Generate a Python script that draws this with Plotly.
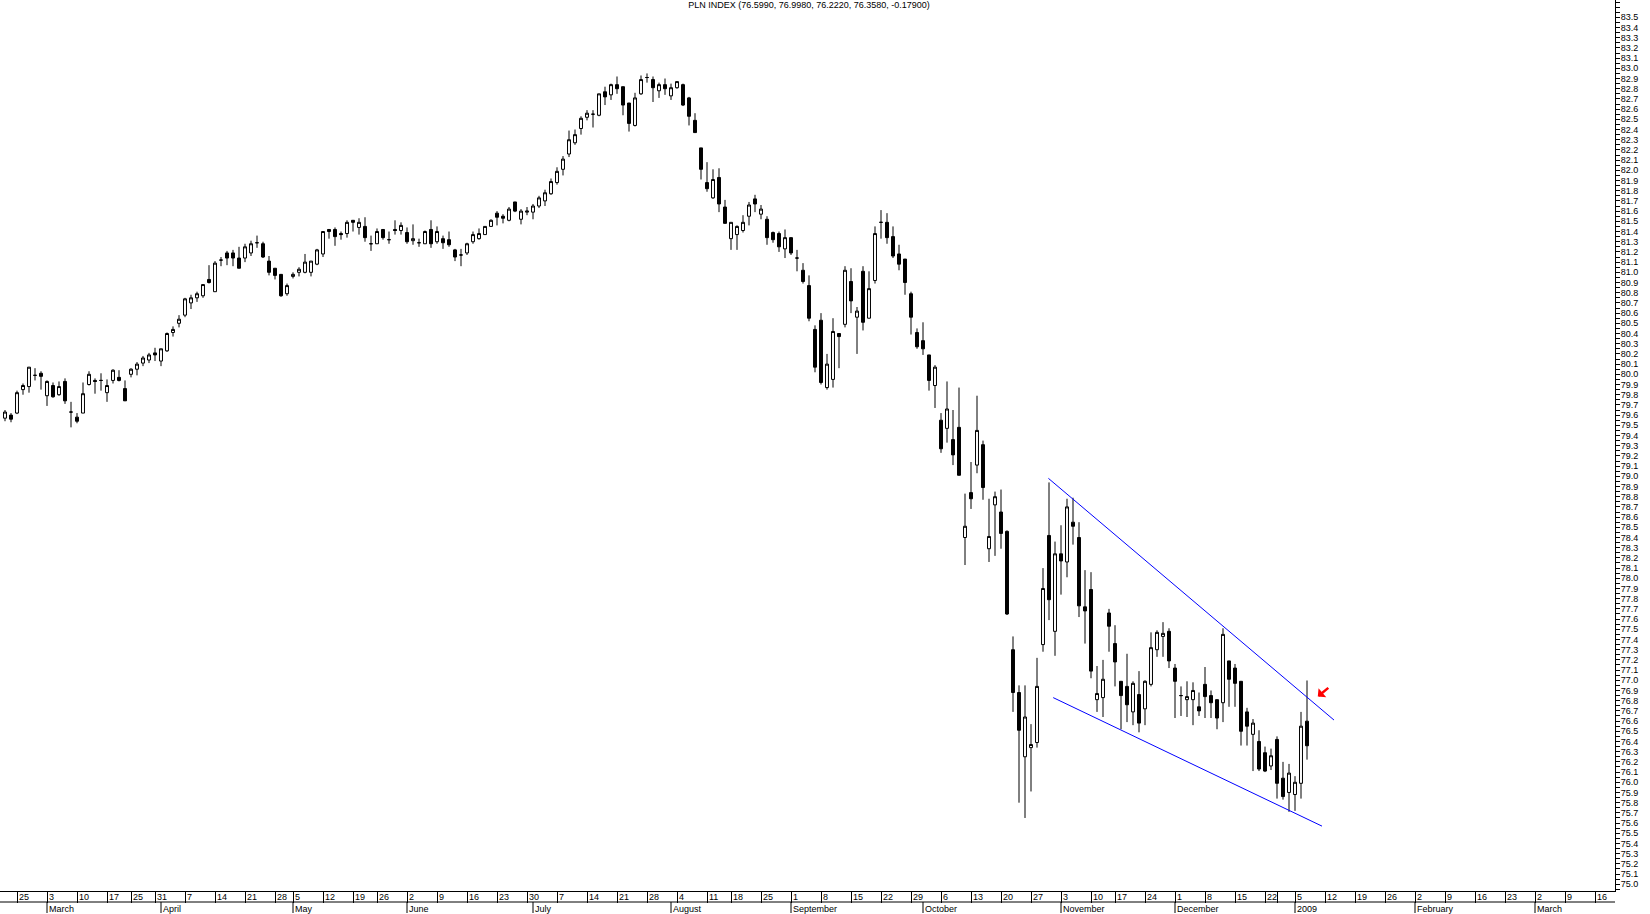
import pandas as pd
import plotly.graph_objects as go

FONT = "Liberation Sans, Arial, sans-serif"

# PLN INDEX daily candles, 21 Feb 2008 .. 7 Jan 2009
opens = [
    79.57, 79.60, 79.62, 79.85, 79.88, 79.99, 80.01, 79.79, 79.89, 79.80,
    79.93, 79.63, 79.58, 79.62, 79.90, 79.94, 79.94, 79.82, 79.94, 79.97,
    79.86, 80.00, 80.05, 80.11, 80.14, 80.21, 80.13, 80.23, 80.41, 80.50,
    80.58, 80.70, 80.75, 80.77, 80.93, 80.81, 81.12, 81.19, 81.19, 81.14,
    81.14, 81.19, 81.29, 81.28, 81.11, 81.04, 80.98, 80.79, 80.96, 81.00,
    81.00, 81.00, 81.08, 81.18, 81.42, 81.42, 81.38, 81.38, 81.51, 81.44,
    81.45, 81.28, 81.28, 81.42, 81.32, 81.42, 81.41, 81.39, 81.31, 81.29,
    81.28, 81.42, 81.30, 81.33, 81.32, 81.22, 81.17, 81.19, 81.30, 81.33,
    81.37, 81.45, 81.58, 81.55, 81.51, 81.69, 81.52, 81.59, 81.59, 81.65,
    81.70, 81.77, 81.88, 82.01, 82.16, 82.27, 82.41, 82.52, 82.55, 82.54,
    82.77, 82.74, 82.84, 82.82, 82.66, 82.44, 82.75, 82.91, 82.89, 82.78,
    82.84, 82.73, 82.81, 82.84, 82.71, 82.49, 82.22, 81.88, 81.73, 81.93,
    81.64, 81.33, 81.37, 81.41, 81.55, 81.72, 81.57, 81.52, 81.39, 81.38,
    81.23, 81.34, 81.14, 81.02, 80.87, 80.44, 80.53, 79.87, 79.95, 80.40,
    80.49, 80.91, 80.56, 81.01, 80.55, 80.92, 81.49, 81.49, 81.35, 81.18,
    81.13, 80.79, 80.41, 80.33, 80.19, 79.89, 79.55, 79.47, 79.36, 79.48,
    78.40, 78.84, 79.11, 79.31, 78.29, 78.72, 78.65, 78.46, 77.30, 76.88,
    76.25, 76.34, 76.39, 77.35, 78.42, 77.48, 78.24, 78.16, 78.55, 78.40,
    77.72, 77.89, 76.81, 76.83, 77.66, 77.36, 76.99, 76.94, 76.69, 76.86,
    76.72, 76.96, 77.30, 77.43, 77.48, 77.12, 76.85, 76.81, 76.81, 76.74,
    76.96, 76.85, 76.81, 76.78, 77.19, 77.12, 76.99, 76.69, 76.47, 76.40,
    76.29, 76.16, 76.42, 76.04, 75.90, 75.88, 75.99, 76.599,
]
highs = [
    79.65, 79.62, 79.84, 79.91, 80.07, 80.06, 80.03, 79.94, 79.92, 79.93,
    79.96, 79.73, 79.62, 79.92, 80.03, 79.96, 80.01, 79.95, 80.05, 80.04,
    79.94, 80.06, 80.12, 80.18, 80.21, 80.26, 80.25, 80.41, 80.47, 80.58,
    80.75, 80.78, 80.81, 80.88, 81.07, 81.11, 81.15, 81.21, 81.22, 81.25,
    81.28, 81.31, 81.36, 81.30, 81.16, 81.04, 80.98, 80.89, 81.00, 81.05,
    81.18, 81.11, 81.23, 81.40, 81.42, 81.44, 81.40, 81.51, 81.51, 81.53,
    81.54, 81.36, 81.43, 81.42, 81.40, 81.51, 81.49, 81.44, 81.47, 81.33,
    81.41, 81.51, 81.45, 81.36, 81.40, 81.23, 81.23, 81.29, 81.40, 81.43,
    81.45, 81.52, 81.60, 81.57, 81.64, 81.69, 81.62, 81.64, 81.67, 81.75,
    81.81, 81.92, 82.03, 82.14, 82.39, 82.40, 82.53, 82.59, 82.59, 82.75,
    82.82, 82.85, 82.92, 82.82, 82.66, 82.76, 82.93, 82.95, 82.92, 82.86,
    82.90, 82.85, 82.87, 82.85, 82.72, 82.56, 82.22, 82.08, 82.01, 82.02,
    81.71, 81.49, 81.46, 81.56, 81.69, 81.76, 81.66, 81.55, 81.40, 81.40,
    81.42, 81.34, 81.22, 81.09, 80.97, 80.48, 80.60, 80.20, 80.55, 80.40,
    81.06, 81.04, 80.66, 81.06, 81.01, 81.45, 81.61, 81.58, 81.45, 81.27,
    81.13, 80.81, 80.45, 80.51, 80.19, 80.09, 79.62, 79.93, 79.65, 79.87,
    78.83, 79.14, 79.79, 79.35, 78.78, 78.85, 78.87, 78.47, 77.43, 76.95,
    76.95, 76.57, 77.22, 78.10, 78.94, 78.36, 78.52, 78.78, 78.79, 78.55,
    78.08, 78.06, 77.14, 77.20, 77.70, 77.54, 76.99, 77.26, 76.99, 77.09,
    77.00, 77.47, 77.49, 77.57, 77.51, 77.16, 76.94, 76.99, 76.98, 76.88,
    77.13, 76.90, 76.81, 77.51, 77.19, 77.16, 76.99, 76.73, 76.62, 76.51,
    76.35, 76.33, 76.45, 76.20, 76.18, 76.06, 76.69, 76.998,
]
lows = [
    79.54, 79.53, 79.61, 79.80, 79.82, 79.94, 79.85, 79.69, 79.77, 79.79,
    79.71, 79.48, 79.52, 79.62, 79.89, 79.81, 79.84, 79.73, 79.91, 79.93,
    79.74, 79.97, 79.99, 80.08, 80.11, 80.13, 80.08, 80.22, 80.37, 80.46,
    80.56, 80.64, 80.71, 80.75, 80.89, 80.81, 81.06, 81.07, 81.06, 81.04,
    81.10, 81.16, 81.24, 81.14, 80.97, 80.93, 80.76, 80.77, 80.94, 80.96,
    80.99, 80.96, 81.07, 81.15, 81.33, 81.26, 81.32, 81.34, 81.40, 81.37,
    81.30, 81.21, 81.28, 81.32, 81.28, 81.37, 81.37, 81.28, 81.27, 81.25,
    81.28, 81.24, 81.28, 81.23, 81.25, 81.11, 81.06, 81.17, 81.28, 81.32,
    81.37, 81.45, 81.46, 81.48, 81.50, 81.59, 81.47, 81.56, 81.52, 81.63,
    81.65, 81.76, 81.86, 81.95, 82.13, 82.25, 82.35, 82.49, 82.42, 82.53,
    82.64, 82.69, 82.75, 82.54, 82.38, 82.43, 82.74, 82.86, 82.67, 82.71,
    82.74, 82.69, 82.80, 82.63, 82.44, 82.37, 81.91, 81.79, 81.72, 81.59,
    81.48, 81.22, 81.22, 81.39, 81.46, 81.59, 81.52, 81.27, 81.29, 81.20,
    81.14, 81.17, 81.01, 80.89, 80.52, 80.02, 79.90, 79.85, 79.87, 80.06,
    80.46, 80.60, 80.20, 80.43, 80.55, 80.89, 81.33, 81.28, 81.14, 81.02,
    80.78, 80.39, 80.25, 80.19, 79.84, 79.67, 79.23, 79.33, 79.11, 79.01,
    78.13, 78.68, 79.03, 78.77, 78.16, 78.22, 78.29, 77.64, 76.69, 75.80,
    75.65, 75.91, 76.34, 77.28, 77.59, 77.24, 77.84, 78.01, 78.33, 77.62,
    77.36, 77.02, 76.69, 76.64, 77.28, 76.94, 76.52, 76.59, 76.56, 76.49,
    76.56, 76.94, 77.23, 77.23, 77.12, 76.63, 76.65, 76.64, 76.56, 76.65,
    76.63, 76.63, 76.52, 76.59, 76.74, 76.74, 76.36, 76.36, 76.11, 76.11,
    76.10, 76.12, 75.84, 75.83, 75.71, 75.72, 75.84, 76.222,
]
closes = [
    79.63, 79.56, 79.82, 79.89, 80.07, 79.99, 79.98, 79.93, 79.78, 79.88,
    79.74, 79.63, 79.54, 79.81, 80.00, 79.93, 79.94, 79.89, 80.04, 79.94,
    79.74, 80.05, 80.10, 80.16, 80.19, 80.19, 80.25, 80.40, 80.44, 80.54,
    80.74, 80.75, 80.79, 80.88, 80.90, 81.09, 81.12, 81.14, 81.14, 81.04,
    81.25, 81.28, 81.29, 81.15, 81.00, 80.97, 80.77, 80.87, 80.98, 81.03,
    81.10, 81.11, 81.22, 81.40, 81.40, 81.35, 81.37, 81.49, 81.49, 81.49,
    81.34, 81.28, 81.40, 81.34, 81.32, 81.41, 81.46, 81.30, 81.33, 81.29,
    81.40, 81.28, 81.40, 81.29, 81.27, 81.15, 81.17, 81.28, 81.37, 81.38,
    81.45, 81.51, 81.54, 81.53, 81.62, 81.60, 81.60, 81.60, 81.65, 81.73,
    81.78, 81.89, 81.99, 82.11, 82.30, 82.35, 82.51, 82.56, 82.55, 82.75,
    82.72, 82.84, 82.80, 82.64, 82.46, 82.71, 82.89, 82.91, 82.81, 82.84,
    82.80, 82.81, 82.87, 82.64, 82.53, 82.37, 82.01, 81.82, 81.91, 81.67,
    81.48, 81.49, 81.45, 81.49, 81.66, 81.67, 81.62, 81.34, 81.32, 81.25,
    81.34, 81.19, 81.14, 80.91, 80.55, 80.07, 79.92, 80.10, 80.42, 80.37,
    81.02, 80.72, 80.62, 80.51, 80.84, 81.38, 81.49, 81.34, 81.16, 81.08,
    80.90, 80.56, 80.27, 80.25, 79.94, 80.07, 79.27, 79.66, 79.21, 79.01,
    78.51, 78.78, 79.45, 78.89, 78.41, 78.80, 78.44, 77.65, 76.88, 76.51,
    76.64, 76.37, 76.94, 77.90, 77.79, 78.24, 78.17, 78.70, 78.51, 77.73,
    77.68, 77.09, 76.87, 77.01, 77.53, 77.18, 76.85, 76.76, 76.97, 76.58,
    76.99, 77.32, 77.47, 77.46, 77.19, 76.99, 76.85, 76.84, 76.90, 76.70,
    76.84, 76.78, 76.63, 77.45, 77.01, 76.97, 76.50, 76.55, 76.58, 76.13,
    76.11, 76.26, 75.99, 75.86, 76.09, 76.00, 76.55, 76.358,
]

# Warsaw market holidays removed from the trading-day axis
holidays = [
    "2008-03-21", "2008-03-24", "2008-05-01", "2008-05-02", "2008-05-22",
    "2008-08-15", "2008-11-11", "2008-12-24", "2008-12-25", "2008-12-26",
    "2009-01-01", "2009-01-02",
]
unlabelled_weeks = ["2008-12-29"]

# price scale labels on the right (75.0 .. 83.5 every 0.1)
y_labels = ["%.1f" % (k / 10) for k in range(750, 836)]

# hand-drawn falling channel (trading-day index, level)
channel_top_x = [173.9, 221.5]
channel_top_y = [78.98, 76.61]
channel_bottom_x = [174.7, 219.5]
channel_bottom_y = [76.83, 75.57]
arrow_x, arrow_y = 218.8, 76.84

title_text = "PLN INDEX (76.5990, 76.9980, 76.2220, 76.3580, -0.17900)"

days = pd.bdate_range("2008-02-21", "2009-03-31")
days = days[~days.isin(pd.to_datetime(holidays))]
x_max = (1615 - 5) / 6
xs = list(range(len(opens)))

# first trading day of each week -> day-number row, first of month -> month row
week_pos, week_txt, month_pos, month_txt = [], [], [], []
prev_week = None
prev_month = days[0].month
for i, d in enumerate(days):
    if i > x_max:
        break
    wk = tuple(d.isocalendar())[:2]
    if wk != prev_week:
        if i > 0:
            week_pos.append(i)
            week_txt.append("" if d.strftime("%Y-%m-%d") in unlabelled_weeks else str(d.day))
        prev_week = wk
    if d.month != prev_month:
        month_pos.append(i)
        month_txt.append(str(d.year) if d.month == 1 else d.strftime("%B"))
        prev_month = d.month

fig = go.Figure()
fig.add_trace(go.Candlestick(
    x=xs, open=opens, high=highs, low=lows, close=closes,
    increasing=dict(line=dict(color="black", width=1), fillcolor="white"),
    decreasing=dict(line=dict(color="black", width=1), fillcolor="black"),
    whiskerwidth=0, hoverinfo="skip", showlegend=False,
))
for cx, cy in [(channel_top_x, channel_top_y), (channel_bottom_x, channel_bottom_y)]:
    fig.add_trace(go.Scatter(x=cx, y=cy, mode="lines", line=dict(color="#0000ff", width=1),
                             hoverinfo="skip", showlegend=False))

plot_h = 891
row = 11 / plot_h  # height of one label row in paper units
annotations = []
for p, t in zip(week_pos, week_txt):
    annotations.append(dict(x=p, y=0, xref="x", yref="paper", text=t, showarrow=False,
                            xanchor="left", yanchor="top", xshift=1, borderpad=0,
                            font=dict(size=9, color="black", family=FONT)))
for p, t in zip(month_pos, month_txt):
    annotations.append(dict(x=p, y=-row, xref="x", yref="paper", text=t, showarrow=False,
                            xanchor="left", yanchor="top", xshift=1, yshift=-1, borderpad=0,
                            font=dict(size=9, color="black", family=FONT)))
annotations.append(dict(x=arrow_x, y=arrow_y, xref="x", yref="y", text="", showarrow=True,
                        ax=12, ay=-10, arrowhead=1, arrowsize=0.8, arrowwidth=2.5,
                        arrowcolor="#ff0000", standoff=0))

shapes = [dict(type="line", xref="paper", yref="paper", x0=0, x1=1, y0=-row, y1=-row,
               line=dict(color="black", width=1))]
for p in month_pos:
    shapes.append(dict(type="line", xref="x", yref="paper", x0=p, x1=p, y0=-row, y1=-2 * row,
                       line=dict(color="black", width=1)))

fig.update_layout(
    width=1650, height=914,
    margin=dict(l=0, r=35, t=0, b=914 - plot_h),
    paper_bgcolor="white", plot_bgcolor="white",
    title=dict(text=title_text, x=809 / 1650, xanchor="center", y=1 - 5 / 914, yanchor="middle",
               font=dict(size=9, color="black", family=FONT)),
    xaxis=dict(range=[-5 / 6, x_max], rangeslider=dict(visible=False), showgrid=False,
               zeroline=False, showline=True, linecolor="black", linewidth=1,
               tickmode="array", tickvals=week_pos, ticks="outside", ticklen=11,
               tickcolor="black", showticklabels=False, fixedrange=True),
    yaxis=dict(side="right", range=[74.934, 83.670], showgrid=False, zeroline=False,
               showline=True, linecolor="black", linewidth=1,
               tickmode="array", tickvals=[float(s) for s in y_labels], ticktext=y_labels,
               ticks="outside", ticklen=4, tickcolor="black", ticklabelstandoff=-1,
               minor=dict(tickmode="linear", tick0=75, dtick=0.05, ticks="outside",
                          ticklen=4, tickcolor="black"),
               tickfont=dict(size=9, color="black", family=FONT), fixedrange=True),
    annotations=annotations, shapes=shapes,
)

fig.write_html("out.html", config={"displayModeBar": False},
               post_script="document.body.style.margin='0';")
